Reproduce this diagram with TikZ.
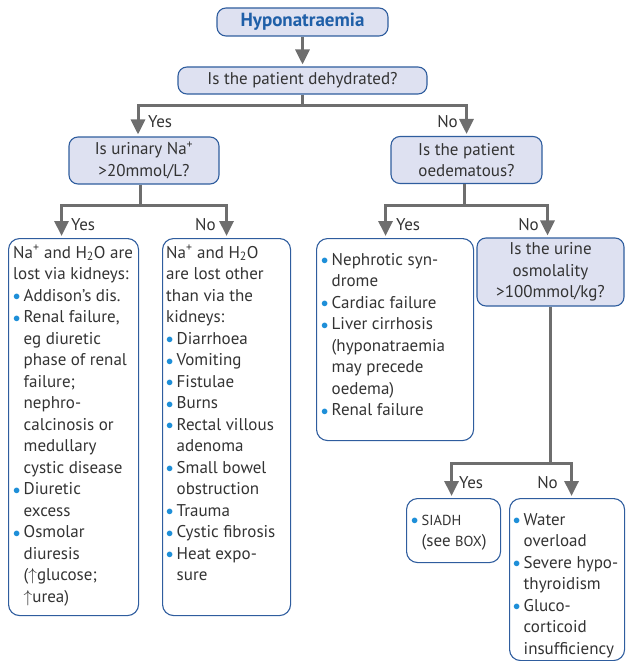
\documentclass[tikz,border=0pt]{standalone}
\usepackage{fontspec}
\setmainfont{PT Sans}
\usetikzlibrary{arrows.meta,positioning}
\definecolor{Frame}{HTML}{2F5D9E}
\definecolor{Query}{HTML}{DEE1F1}
\definecolor{Title}{HTML}{1F5FA8}
\definecolor{Flow}{HTML}{6E6E6E}
\definecolor{Dot}{HTML}{1E8FD8}
\definecolor{Ink}{HTML}{333333}
\newcommand{\dotitem}{\makebox[10.5pt][l]{\raisebox{0.6pt}{\textcolor{Dot}{\fontsize{14}{14}\selectfont$\bullet$}}}}
\newcommand{\hang}{\hspace*{10.5pt}}
\newcommand{\up}{$\uparrow$}

\begin{document}
\begin{tikzpicture}[x=1pt,y=-1pt,text=Ink,font=\fontsize{17}{21.5}\selectfont,
  query/.style={draw=Frame,line width=1.1pt,fill=Query,rounded corners=9pt,align=center,inner sep=0pt},
  panel/.style={draw=Frame,line width=1.1pt,rounded corners=11pt,anchor=north west,inner sep=0pt},
  listing/.style={anchor=north west,align=left,inner sep=0pt},
  flow/.style={draw=Flow,line width=3pt,shorten >=2pt,-{Triangle[width=14pt,length=15pt]}},
  stem/.style={draw=Flow,line width=3pt},
  reply/.style={inner sep=0pt}]
  \useasboundingbox (0,0) rectangle (626,661);

  % questions
  \node[query,minimum width=171pt,minimum height=28pt,font=\fontsize{19}{20}\selectfont\bfseries,text=Title] (title) at (302.5,22) {Hyponatraemia};
  \node[query,minimum width=249pt,minimum height=27pt] (dehyd) at (302.5,80.5) {Is the patient dehydrated?};
  \node[query,minimum width=150pt,minimum height=47pt] (urinary) at (144,160.5) {Is urinary Na\textsuperscript{+}\\>20mmol/L?};
  \node[query,minimum width=151pt,minimum height=47pt] (oedema) at (466.5,160) {Is the patient\\oedematous?};
  \node[query,minimum width=147pt,minimum height=68pt] (osmolality) at (550.5,272) {Is the urine\\osmolality\\>100mmol/kg?};

  % answer panels
  \node[panel,minimum width=130pt,minimum height=377pt] (kidney) at (8,238) {};
  \node[listing] (kidneyTxt) at ([xshift=5pt,yshift=-5pt]kidney.north west) {\strut Na\textsuperscript{+} and H\textsubscript{2}O are\\
    lost via kidneys:\\
    \dotitem Addison’s dis.\\
    \dotitem Renal failure,\\
    \hang eg diuretic\\
    \hang phase of renal\\
    \hang failure;\\
    \hang nephro-\\
    \hang calcinosis or\\
    \hang medullary\\
    \hang cystic disease\\
    \dotitem Diuretic\\
    \hang excess\\
    \dotitem Osmolar\\
    \hang diuresis\\
    \hang (\up glucose;\\
    \hang \up urea)};

  \node[panel,minimum width=128pt,minimum height=377pt] (extrarenal) at (162,238) {};
  \node[listing] (extrarenalTxt) at ([xshift=4pt,yshift=-5pt]extrarenal.north west) {\strut Na\textsuperscript{+} and H\textsubscript{2}O\\
    are lost other\\
    than via the\\
    kidneys:\\
    \dotitem Diarrhoea\\
    \dotitem Vomiting\\
    \dotitem Fistulae\\
    \dotitem Burns\\
    \dotitem Rectal villous\\
    \hang adenoma\\
    \dotitem Small bowel\\
    \hang obstruction\\
    \dotitem Trauma\\
    \dotitem Cystic fibrosis\\
    \dotitem Heat expo-\\
    \hang sure};

  \node[panel,minimum width=157pt,minimum height=202pt] (oedYes) at (316,238) {};
  \node[listing] (oedYesTxt) at ([xshift=5pt,yshift=-12pt]oedYes.north west) {\strut\dotitem Nephrotic syn-\\
    \hang drome\\
    \dotitem Cardiac failure\\
    \dotitem Liver cirrhosis\\
    \hang (hyponatraemia\\
    \hang may precede\\
    \hang oedema)\\
    \dotitem Renal failure};

  \node[panel,minimum width=94pt,minimum height=64pt] (siadh) at (406,498) {};
  \node[listing] (siadhTxt) at ([xshift=5pt,yshift=-12pt]siadh.north west) {\strut\dotitem {\fontsize{14.5}{14.5}\selectfont SIADH}\\
    \hang (see {\fontsize{14.5}{14.5}\selectfont BOX})};

  \node[panel,minimum width=115pt,minimum height=162pt] (other) at (509,498) {};
  \node[listing] (otherTxt) at ([xshift=4pt,yshift=-12pt]other.north west) {\strut\dotitem Water\\
    \hang overload\\
    \dotitem Severe hypo-\\
    \hang thyroidism\\
    \dotitem Gluco-\\
    \hang corticoid\\
    \hang insufficiency};

  % connectors
  \draw[flow] (title) -- (dehyd);
  \draw[stem] (dehyd.south) -- ++(0,11) coordinate (fork1);
  \draw[flow] (fork1) -| ([xshift=-6pt]urinary.north);
  \draw[flow] (fork1) -| (oedema.north);
  \draw[stem] ([xshift=-4pt]urinary.south) -- ++(0,21) coordinate (fork2);
  \draw[flow] (fork2) -| ([xshift=-12pt]kidney.north);
  \draw[flow] (fork2) -| (extrarenal.north);
  \draw[stem] ([xshift=-2.5pt]oedema.south) -- ++(0,21.5) coordinate (fork3);
  \draw[flow] (fork3) -| ([xshift=-9.5pt]oedYes.north);
  \draw[flow] (fork3) -| ([xshift=-3pt]osmolality.north);
  \draw[stem] (osmolality.south) -- ++(0,157) coordinate (fork4);
  \draw[flow] (fork4) -| ([xshift=-2pt]siadh.north);
  \draw[flow] (fork4) -| ([xshift=4.5pt]other.north);

  % yes / no
  \node[reply,anchor=west] (yes1) at (148,122) {Yes};
  \node[reply,anchor=east] (no1) at (458,122) {No};
  \node[reply,anchor=west] (yes2) at (71,225) {Yes};
  \node[reply,anchor=east] (no2) at (216,225) {No};
  \node[reply,anchor=west] (yes3) at (396,225) {Yes};
  \node[reply,anchor=east] (no3) at (539,225) {No};
  \node[reply,anchor=west] (yes4) at (459,483) {Yes};
  \node[reply,anchor=east] (no4) at (558,483) {No};
\end{tikzpicture}
\end{document}
